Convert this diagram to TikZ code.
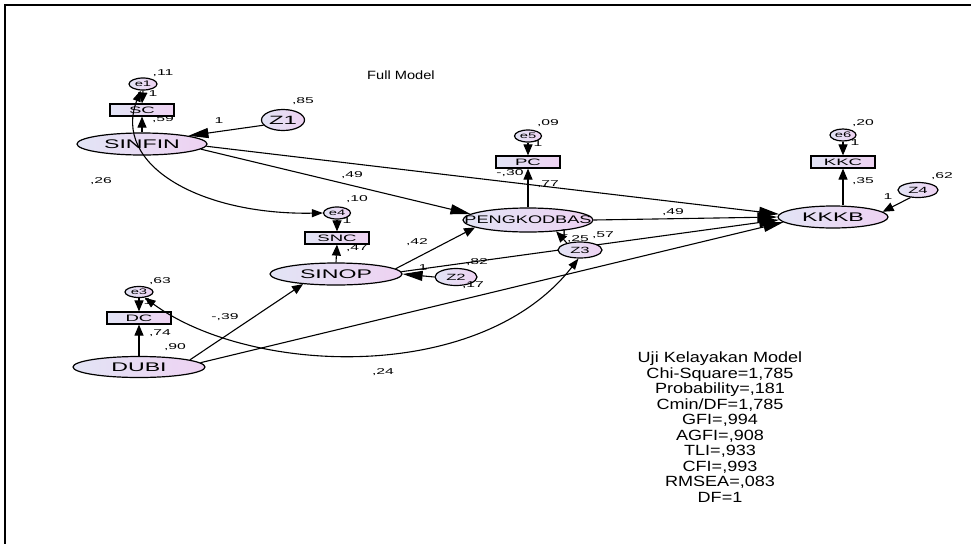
\documentclass[tikz,border=0pt]{standalone}
\usepackage{fontspec}
\setmainfont{Liberation Sans}
\newfontfamily\dgA[FakeStretch=1.85]{Liberation Sans}
\newfontfamily\dgB[FakeStretch=2.0]{Liberation Sans}
\newfontfamily\dgC[FakeStretch=1.65]{Liberation Sans}
\newfontfamily\dgT[FakeStretch=1.22]{Liberation Sans}
\usetikzlibrary{arrows.meta,shapes.geometric}
\pgfdeclarelayer{bg}
\pgfsetlayers{bg,main}
\definecolor{lavL}{RGB}{226,228,245}
\definecolor{lavR}{RGB}{238,210,242}
\newcommand\myfv{\dgA\fontsize{12.5}{14}\selectfont}
\newcommand\myfpk{\dgC\fontsize{11}{13}\selectfont}
\newcommand\myfr{\dgB\fontsize{9.3}{11}\selectfont}
\newcommand\myfe{\dgA\fontsize{8}{9}\selectfont}
\newcommand\myfz{\dgA\fontsize{9}{10}\selectfont}
\newcommand\myfzz{\dgB\fontsize{12}{13}\selectfont}
\newcommand\myfl{\dgA\fontsize{8.5}{10}\selectfont}
\newcommand\myft{\dgT\fontsize{14.8}{15.5}\selectfont}
\newcommand\myftitle{\dgT\fontsize{12}{13}\selectfont}
\begin{document}
\begin{tikzpicture}[x=1pt,y=-1pt,
  lat/.style={ellipse, draw, line width=1.2pt, left color=lavL, right color=lavR, inner sep=0pt},
  obs/.style={rectangle, draw, line width=1.2pt, left color=lavL, right color=lavR, inner sep=0pt, minimum width=64pt, minimum height=12pt, font=\myfr},
  lb/.style={font=\myfl, inner sep=0pt},
  arr/.style={line width=1.1pt, -{Triangle[length=11pt,width=9pt]}},
  arrl/.style={line width=1.1pt, -{Triangle[length=20pt,width=10pt]}},
  darr/.style={line width=1.1pt, {Triangle[length=11pt,width=8pt]}-{Triangle[length=11pt,width=8pt]}}]
\useasboundingbox (0,0) rectangle (971,544);
\draw[line width=1.6pt] (971,5) -- (5,5) -- (5,544);
\node[font=\myftitle, inner sep=0pt] (title) at (401,75) {Full Model};
% latent variables
\node[lat, minimum width=130pt, minimum height=22pt, font=\myfv] (sinfin) at (142,144) {SINFIN};
\node[lat, minimum width=132pt, minimum height=22pt, font=\myfv] (sinop) at (336,274) {SINOP};
\node[lat, minimum width=132pt, minimum height=21pt, font=\myfv] (dubi) at (139,367) {DUBI};
\node[lat, minimum width=130pt, minimum height=24pt] (pk) at (528,220) {};
\node[font=\myfpk, inner sep=0pt] (pkt) at (pk.center) {PENGKODBAS};
\node[lat, minimum width=110pt, minimum height=22pt, font=\myfv] (kkkb) at (833,217) {KKKB};
% observed
\node[obs] (sc) at (142,110) {SC};
\node[obs] (snc) at (337,238) {SNC};
\node[obs] (dc) at (139,318) {DC};
\node[obs] (pc) at (528,162) {PC};
\node[obs] (kkc) at (843,162) {KKC};
% errors
\node[lat, minimum width=28pt, minimum height=12pt, font=\myfe] (e1) at (143,84) {e1};
\node[lat, minimum width=27pt, minimum height=12pt, font=\myfe] (e4) at (337,213) {e4};
\node[lat, minimum width=28pt, minimum height=11pt, font=\myfe] (e3) at (139,292) {e3};
\node[lat, minimum width=27pt, minimum height=12pt, font=\myfe] (e5) at (528,136) {e5};
\node[lat, minimum width=26pt, minimum height=12pt, font=\myfe] (e6) at (843,135) {e6};
% disturbances
\node[lat, minimum width=43pt, minimum height=21pt, font=\myfzz] (z1) at (283,120) {Z1};
\node[lat, minimum width=42pt, minimum height=17pt, font=\myfz] (z2) at (456,277) {Z2};
\node[lat, minimum width=44pt, minimum height=16pt, font=\myfz] (z3) at (580,250) {Z3};
\node[lat, minimum width=40pt, minimum height=15pt, font=\myfz] (z4) at (918,190) {Z4};
% connectors
\begin{pgfonlayer}{bg}
\draw[arrl] (sinop.2) -- (kkkb.183);
\end{pgfonlayer}
\draw[arr] (e1.south) -- (sc.north);
\draw[arr] (sinfin.north) -- (sc.south);
\draw[arr] (e4.south) -- (snc.north);
\draw[arr] (sinop.north) -- (snc.south);
\draw[arr] (e3.south) -- (dc.north);
\draw[arr] (dubi.north) -- (dc.south);
\draw[arr] (e5.south) -- (pc.north);
\draw[arr] (pk.north) -- (pc.south);
\draw[arr] (e6.south) -- (kkc.north);
\draw[arr] (kkkb.north -| kkc.south) -- (kkc.south);
\draw[arrl] (z1.195) -- (sinfin.10);
\draw[arrl] (sinfin.-5) -- (pk.174);
\draw[arrl] (sinfin.-2) -- (kkkb.177);
\draw[arr] (sinop.5) -- (pk.188);
\draw[arrl] (z2.west) -- (sinop.east);
\draw[arr] (dubi.8) -- (sinop.197);
\draw[arrl] (dubi.4) -- (kkkb.186);
\draw[arrl] (pk.east) -- (kkkb.west);
\draw[arr] (z3.152) -- (pk.-22);
\draw[arr] (z4.225) -- (kkkb.6);
\draw[darr] (e1.250) .. controls (112,165) and (200,215) .. (e4.west);
\draw[darr] (e3.-45) .. controls (250,375) and (480,385) .. (z3.-100);
% labels
\node[lb] (l01) at (163,73) {,11};
\node[lb] (l02) at (153,94) {1};
\node[lb] (l03) at (163,119) {,59};
\node[lb] (l04) at (303,101) {,85};
\node[lb] (l05) at (219,121) {1};
\node[lb] (l06) at (101,181) {,26};
\node[lb] (l07) at (357,199) {,10};
\node[lb] (l08) at (347,221) {1};
\node[lb] (l09) at (357,248) {,47};
\node[lb] (l10) at (352,175) {,49};
\node[lb] (l11) at (417,242) {,42};
\node[lb] (l12) at (423,268) {1};
\node[lb] (l13) at (477,262) {,82};
\node[lb] (l14) at (473,285) {,17};
\node[lb] (l15) at (548,123) {,09};
\node[lb] (l16) at (538,144) {1};
\node[lb] (l17) at (510,173) {-,30};
\node[lb] (l18) at (548,184) {,77};
\node[lb] (l19) at (564,233) {1};
\node[lb] (l20) at (578,239) {,25};
\node[lb] (l21) at (603,235) {,57};
\node[lb] (l22) at (673,212) {,49};
\node[lb] (l23) at (863,123) {,20};
\node[lb] (l24) at (855,143) {1};
\node[lb] (l25) at (863,181) {,35};
\node[lb] (l26) at (942,176) {,62};
\node[lb] (l27) at (888,197) {1};
\node[lb] (l28) at (160,281) {,63};
\node[lb] (l29) at (148,302) {1};
\node[lb] (l30) at (160,333) {,74};
\node[lb] (l31) at (175,347) {,90};
\node[lb] (l32) at (225,317) {-,39};
\node[lb] (l33) at (383,372) {,24};
% fit statistics
\node[font=\myft, align=center, inner sep=0pt] (fit) at (720,427) {Uji Kelayakan Model\\Chi-Square=1,785\\Probability=,181\\Cmin/DF=1,785\\GFI=,994\\AGFI=,908\\TLI=,933\\CFI=,993\\RMSEA=,083\\DF=1};
\end{tikzpicture}
\end{document}
